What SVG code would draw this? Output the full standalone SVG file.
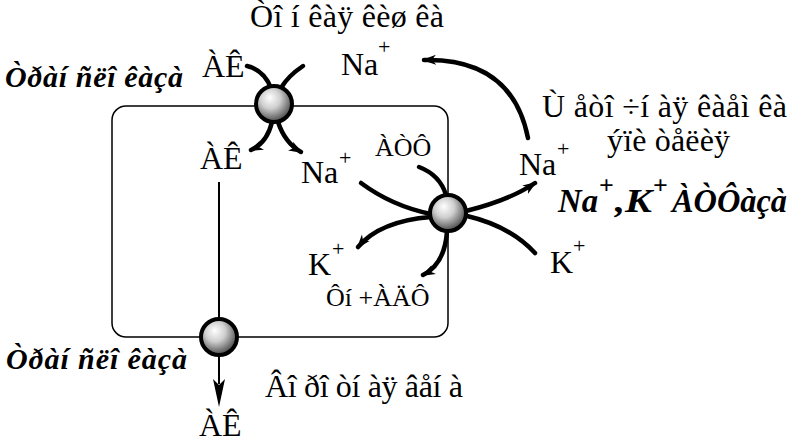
<svg xmlns="http://www.w3.org/2000/svg" width="791" height="441" viewBox="0 0 791 441">
<style>
  text { font-family: "Liberation Serif", "DejaVu Serif", serif; fill: #000; }
  .t { font-size: 32px; }
  .s { font-size: 26px; }
  .sup { font-size: 22px; }
  .bi { font-size: 30px; font-weight: bold; font-style: italic; }
  .bi2 { font-size: 33px; font-weight: bold; font-style: italic; }
  .bisup { font-size: 26px; font-weight: bold; }
  .curve { fill: none; stroke: #000; stroke-width: 4.5; stroke-linecap: round; }
  .curveA { fill: none; stroke: #000; stroke-width: 4.5; stroke-linecap: round; marker-end: url(#ah); }
  .thin { fill: none; stroke: #000; stroke-width: 2; }
  .ball { fill: url(#sph); stroke: #000; stroke-width: 4; }
</style>
<defs>
  <radialGradient id="sph" cx="42%" cy="38%" r="62%" fx="38%" fy="32%">
    <stop offset="0" stop-color="#ffffff"/>
    <stop offset="0.45" stop-color="#cfcfcf"/>
    <stop offset="1" stop-color="#4a4a4a"/>
  </radialGradient>
  <marker id="ah" markerUnits="userSpaceOnUse" markerWidth="16" markerHeight="12" refX="12" refY="6" orient="auto">
    <path d="M0,1 L14,6 L0,11 L4,6 Z" fill="#000"/>
  </marker>
</defs>
<rect width="791" height="441" fill="#fff"/>

<g id="cell">
  <rect x="112" y="106" width="336" height="231" rx="14" ry="14" fill="none" stroke="#000" stroke-width="1.5"/>
</g>

<g id="connectors">
  <path class="curve" d="M247,66 Q264,70 271,88"/>
  <path class="curve" d="M303,66 Q288,76 281,88"/>
  <path class="curveA" d="M272,122 Q267,143 251,150"/>
  <path class="curveA" d="M278,122 Q285,143 301,152"/>
  <line class="thin" x1="219" y1="182" x2="219" y2="320"/>
  <line class="thin" x1="219" y1="354" x2="219" y2="384"/>
  <polygon points="213,379 219,407 225,379 219,385" fill="#000"/>
  <path class="curve" d="M419,167 Q440,175 446,195"/>
  <path class="curve" d="M361,183 Q392,206 431,214"/>
  <path class="curveA" d="M431,217 Q380,221 358,247"/>
  <path class="curveA" d="M447,231 Q445,264 423,275"/>
  <path class="curveA" d="M466,211 Q510,200 535,183"/>
  <path class="curve" d="M535,253 Q510,226 467,216"/>
  <path class="curveA" d="M528,138 Q512,58 424,60"/>
</g>

<g id="transporter-top">
  <circle class="ball" cx="274" cy="104" r="18"/>
</g>
<g id="pump">
  <circle class="ball" cx="448" cy="213" r="18"/>
</g>
<g id="transporter-bottom">
  <circle class="ball" cx="219" cy="337" r="18"/>
</g>

<g id="labels">
  <text class="t" x="250" y="27" textLength="194" lengthAdjust="spacing">Òî í êàÿ êèø êà</text>
  <text class="bi" x="5" y="87" textLength="178" lengthAdjust="spacing">Òðàí ñëî êàçà</text>
  <text class="t" x="202" y="77">ÀÊ</text>
  <text class="t" x="341" y="75">Na</text>
  <text class="sup" x="378" y="54">+</text>

  <text class="t" x="200" y="169">ÀÊ</text>
  <text class="t" x="301" y="183">Na</text>
  <text class="sup" x="339" y="165">+</text>
  <text class="s" x="375" y="156">ÀÒÔ</text>
  <text class="t" x="308" y="275">K</text>
  <text class="sup" x="332" y="256">+</text>
  <text class="s" x="326" y="306">Ôí +ÀÄÔ</text>

  <text class="t" x="542" y="117" textLength="245" lengthAdjust="spacing">Ù åòî ÷í àÿ êàåì êà</text>
  <text class="t" x="607" y="151" textLength="123" lengthAdjust="spacing">ýïè òåëèÿ</text>
  <text class="t" x="519" y="175">Na</text>
  <text class="sup" x="557" y="156">+</text>
  <text class="bi2" x="558" y="212" textLength="40" lengthAdjust="spacingAndGlyphs">Na</text>
  <text class="bisup" x="599" y="194">+</text>
  <text class="bi2" x="615" y="212" textLength="37" lengthAdjust="spacingAndGlyphs">,K</text>
  <text class="bisup" x="653" y="194">+</text>
  <text class="bi2" x="672" y="212" textLength="115" lengthAdjust="spacingAndGlyphs">ÀÒÔàçà</text>
  <text class="t" x="550" y="273">K</text>
  <text class="sup" x="573" y="253">+</text>

  <text class="bi" x="6" y="369" textLength="181" lengthAdjust="spacing">Òðàí ñëî êàçà</text>
  <text class="t" x="265" y="397" textLength="198" lengthAdjust="spacing">Âî ðî òí àÿ âåí à</text>
  <text class="t" x="199" y="436">ÀÊ</text>
</g>
</svg>
